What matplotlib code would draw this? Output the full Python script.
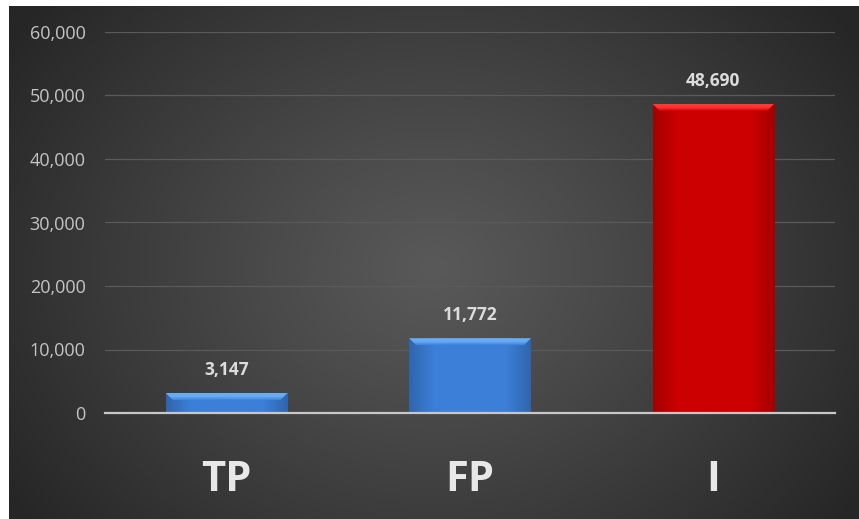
import numpy as np
import matplotlib
matplotlib.use("Agg")
import matplotlib.pyplot as plt
from matplotlib.colors import LinearSegmentedColormap, to_rgb
from matplotlib.ticker import FuncFormatter
from matplotlib.patches import Polygon

categories = ["TP", "FP", "I"]
values = [3147, 11772, 48690]
bar_colors = ["#3c7fd8", "#3c7fd8", "#cc0000"]
top_colors = ["#66aaf2", "#66aaf2", "#ff3030"]
yticks = [0, 10000, 20000, 30000, 40000, 50000, 60000]

W, H = 859, 519
fig = plt.figure(figsize=(W / 100, H / 100), dpi=100)
fig.patch.set_facecolor("white")

# background radial gradient panel
bg = fig.add_axes([9 / W, -0.02, 1.02, 1.02 - 6 / H])
bg.set_axis_off()
yy, xx = np.mgrid[0:200, 0:300]
cx, cy = 145, 100
r = np.sqrt(((xx - cx) / 175.0) ** 2 + ((yy - cy) / 160.0) ** 2)
r = np.clip(r, 0, 1)
c_in = np.array(to_rgb("#595959"))
c_out = np.array(to_rgb("#262626"))
t = r[..., None] ** 1.1
img = c_in[None, None, :] * (1 - t) + c_out[None, None, :] * t
bg.imshow(img, aspect="auto", extent=[0, 1, 0, 1], origin="upper")
bg.set_xlim(0, 1)
bg.set_ylim(0, 1)

ax = fig.add_axes([105 / W, 1 - 413 / H, 730 / W, (413 - 32) / H])
ax.patch.set_alpha(0)
x = np.arange(len(categories))
width = 0.5
bars = ax.bar(x, values, width=width, color=bar_colors, zorder=3)

ax.set_xlim(-0.5, len(categories) - 0.5)
ax.set_ylim(0, 60000)
ax.set_yticks(yticks)
ax.yaxis.set_major_formatter(FuncFormatter(lambda v, p: f"{int(v):,}"))
ax.grid(axis="y", color="#5a5a5a", linewidth=0.9, zorder=0)
ax.set_axisbelow(True)
for s in ["top", "right", "left"]:
    ax.spines[s].set_visible(False)
ax.spines["bottom"].set_color("#c8c8c8")
ax.spines["bottom"].set_linewidth(1.6)
ax.spines["bottom"].set_zorder(6)
ax.tick_params(axis="y", length=0, pad=14, labelsize=13, labelcolor="#c4c4c4")
ax.tick_params(axis="x", length=0, pad=34)
ax.set_xticks(x)
ax.set_xticklabels(categories, fontsize=30, fontweight="bold", color="#e8e8e8", family="Open Sans")
for lab in ax.get_yticklabels():
    lab.set_family("Open Sans")

# conversion of a few pixels to data units for the bevel
px_y = 60000 / (413 - 32)
px_x = 3.0 / 730
bev_h = 7 * px_y
bev_w = 7 * px_x

for b, col, tcol in zip(bars, bar_colors, top_colors):
    base = np.array(to_rgb(col))
    dark = base * 0.8
    cmap = LinearSegmentedColormap.from_list("g", [dark, base, base, base, base, dark])
    x0, y0 = b.get_x(), b.get_y()
    w, h = b.get_width(), b.get_height()
    grad = np.linspace(0, 1, 200)[None, :]
    im = ax.imshow(grad, cmap=cmap, aspect="auto", extent=[x0, x0 + w, y0, y0 + h], zorder=3)
    im.set_clip_path(b)
    b.set_facecolor("none")
    # top bevel (trapezoid) with vertical gradient
    top = y0 + h
    poly = Polygon([(x0, top), (x0 + w, top), (x0 + w - bev_w, top - bev_h), (x0 + bev_w, top - bev_h)],
                   closed=True, facecolor="none", edgecolor="none", zorder=4)
    ax.add_patch(poly)
    tc = np.array(to_rgb(tcol))
    cm2 = LinearSegmentedColormap.from_list("t", [base * 1.02, tc, tc * 0.95 + 0.05])
    g2 = np.linspace(0, 1, 50)[:, None]
    im2 = ax.imshow(g2, cmap=cm2, aspect="auto", extent=[x0, x0 + w, top - bev_h, top],
                    origin="lower", zorder=4)
    im2.set_clip_path(poly)
    ax.annotate(f"{b.get_height():,.0f}", (x0 + w / 2, top), xytext=(0, 10), textcoords="offset points",
                ha="center", va="bottom", fontsize=12.5, fontweight="bold", color="#dcdcdc", family="Open Sans")

ax.set_xlim(-0.5, len(categories) - 0.5)
ax.set_ylim(0, 60000)

fig.savefig("out.png", dpi=100, facecolor=fig.get_facecolor())
